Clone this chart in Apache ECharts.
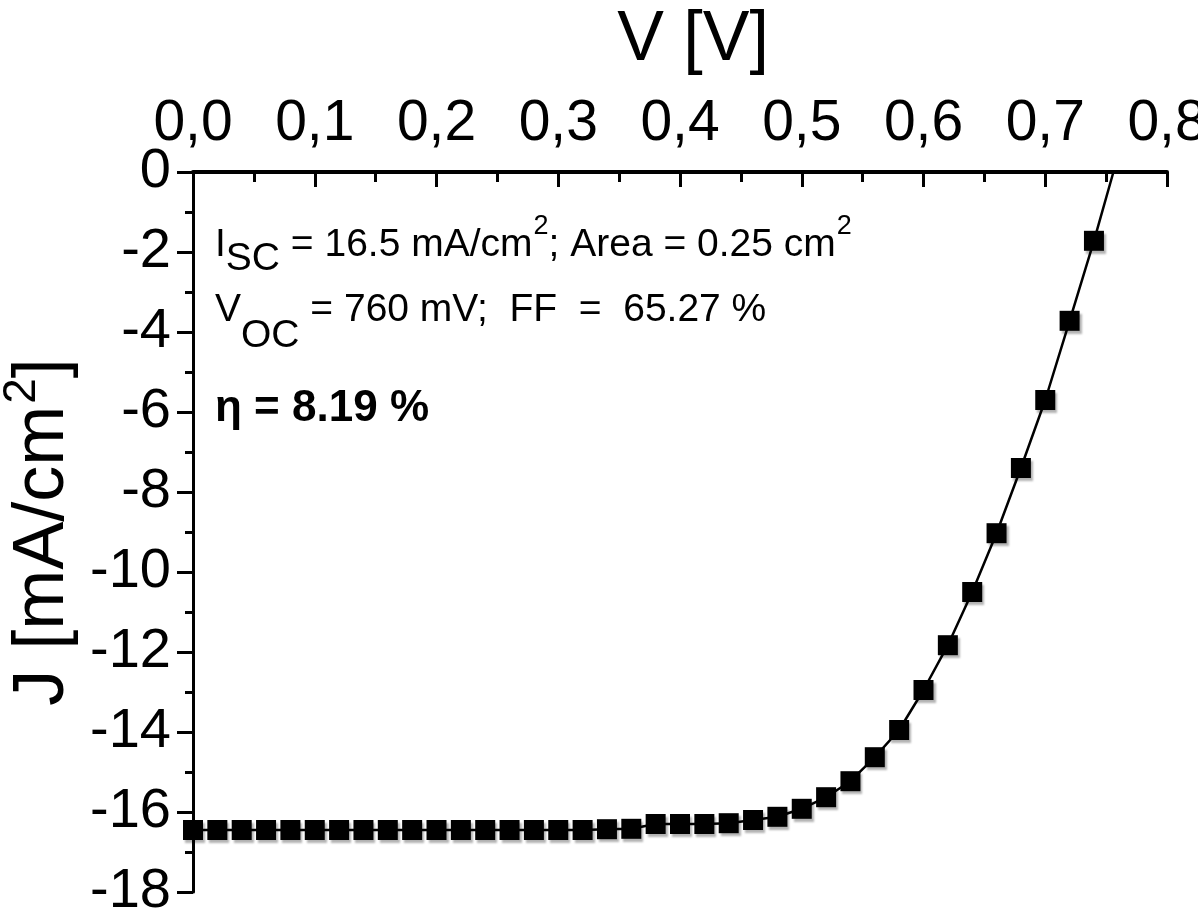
<!DOCTYPE html>
<html>
<head>
<meta charset="utf-8">
<script src="https://cdn.jsdelivr.net/npm/echarts@6/dist/echarts.min.js"></script>
<style>
html,body{margin:0;padding:0;background:#fff;}
#c{width:1198px;height:913px;}
</style>
</head>
<body>
<div id="c"></div>
<script>
// Measured J-V points (V in volts, J in mA/cm2)
var voltage = [0.00,0.02,0.04,0.06,0.08,0.10,0.12,0.14,0.16,0.18,0.20,0.22,0.24,0.26,0.28,0.30,0.32,0.34,0.36,
               0.38,0.40,0.42,0.44,0.46,0.48,0.50,0.52,0.54,0.56,0.58,0.60,0.62,0.64,0.66,0.68,0.70,0.72,0.74];
var current = [-16.45,-16.45,-16.45,-16.45,-16.45,-16.45,-16.45,-16.45,-16.45,-16.45,-16.45,-16.45,-16.45,-16.45,-16.45,-16.45,-16.45,-16.43,-16.42,
               -16.3,-16.3,-16.3,-16.28,-16.2,-16.12,-15.92,-15.63,-15.23,-14.63,-13.95,-12.95,-11.83,-10.5,-9.03,-7.4,-5.7,-3.72,-1.72];
// Fit line continues to the open-circuit point
var fitVoltage = voltage.concat([0.756]);
var fitCurrent = current.concat([0]);
var xTicks = {min: 0, max: 0.8, step: 0.1};
var yTicks = {min: -18, max: 0, step: 2};

var FONT = "'Liberation Sans', Arial, sans-serif";
var chart = echarts.init(document.getElementById('c'));

function pairs(xs, ys){ return xs.map(function(x,i){ return [x, ys[i]]; }); }

var option = {
  backgroundColor: '#fff',
  animation: false,
  grid: {left: 193, top: 172, right: 31, bottom: 21, containLabel: false, outerBoundsMode: 'none'},
  xAxis: {
    type: 'value', position: 'top',
    min: xTicks.min, max: xTicks.max, interval: xTicks.step,
    name: 'V [V]', nameLocation: 'middle', nameGap: 96,
    nameTextStyle: {fontFamily: FONT, fontSize: 70, color: '#000', padding: [0,0,0,26]},
    axisLine: {show: true, onZero: false, lineStyle: {color: '#000', width: 4}},
    axisTick: {show: true, inside: true, length: 15, lineStyle: {color: '#000', width: 3}},
    minorTick: {show: true, splitNumber: 2, length: 10, lineStyle: {color: '#000', width: 3}},
    axisLabel: {fontFamily: FONT, fontSize: 57, color: '#000', margin: 19, hideOverlap: false,
      showMinLabel: true, showMaxLabel: true,
      formatter: function(v){ return v.toFixed(1).replace('.', ','); }},
    splitLine: {show: false}
  },
  yAxis: {
    type: 'value', position: 'left',
    min: yTicks.min, max: yTicks.max, interval: yTicks.step,
    name: '{a|J [mA/cm}{b|2}{a|]}', nameLocation: 'middle', nameGap: 108,
    nameTextStyle: {
      rich: {
        a: {fontFamily: FONT, fontSize: 72, color: '#000', lineHeight: 80, verticalAlign: 'bottom'},
        b: {fontFamily: FONT, fontSize: 46, color: '#000', lineHeight: 80, verticalAlign: 'top', padding: [0,0,0,2]}
      }
    },
    axisLine: {show: true, onZero: false, lineStyle: {color: '#000', width: 3}},
    axisTick: {show: true, inside: false, length: 16, lineStyle: {color: '#000', width: 3}},
    minorTick: {show: true, splitNumber: 2, length: 8, lineStyle: {color: '#000', width: 3}},
    axisLabel: {fontFamily: FONT, fontSize: 56, color: '#000', margin: 22, hideOverlap: false,
      showMinLabel: true, showMaxLabel: true},
    splitLine: {show: false}
  },
  series: [
    {
      type: 'line', data: pairs(fitVoltage, fitCurrent), showSymbol: false, symbol: 'none',
      lineStyle: {color: '#000', width: 2.5}, z: 2, clip: false
    },
    {
      type: 'scatter', data: pairs(voltage, current), symbol: 'rect', symbolSize: 20,
      itemStyle: {color: '#000', opacity: 1, shadowColor: 'rgba(0,0,0,0.3)', shadowBlur: 2, shadowOffsetX: 2, shadowOffsetY: 3},
      z: 3
    }
  ],
  graphic: [
    {
      type: 'text', left: 215, top: 213, z: 10,
      style: {
        text: '{n|I}{s|SC}{n| = 16.5 mA/cm}{p|2}{n|; Area = 0.25 cm}{p|2}',
        rich: {
          n: {fontFamily: FONT, fontSize: 39, fill: '#000', lineHeight: 40, verticalAlign: 'top', padding: [13,0,0,0]},
          s: {fontFamily: FONT, fontSize: 39, fill: '#000', lineHeight: 40, verticalAlign: 'top', padding: [27,0,0,0]},
          p: {fontFamily: FONT, fontSize: 27, fill: '#000', lineHeight: 28, verticalAlign: 'top', padding: [0,0,0,1]}
        }
      }
    },
    {
      type: 'text', left: 215, top: 291, z: 10,
      style: {
        text: '{n|V}{s|OC}{n| = 760 mV;  FF  =  65.27 %}',
        rich: {
          n: {fontFamily: FONT, fontSize: 39, fill: '#000', lineHeight: 40, verticalAlign: 'top', padding: [0,0,0,0]},
          s: {fontFamily: FONT, fontSize: 39, fill: '#000', lineHeight: 40, verticalAlign: 'top', padding: [26,0,0,0]}
        }
      }
    },
    {
      type: 'text', left: 215, top: 387, z: 10,
      style: {
        text: 'η = 8.19 %',
        fontFamily: FONT, fontSize: 44, fontWeight: 'bold', fill: '#000', lineHeight: 44
      }
    }
  ]
};
chart.setOption(option);
</script>
</body>
</html>
